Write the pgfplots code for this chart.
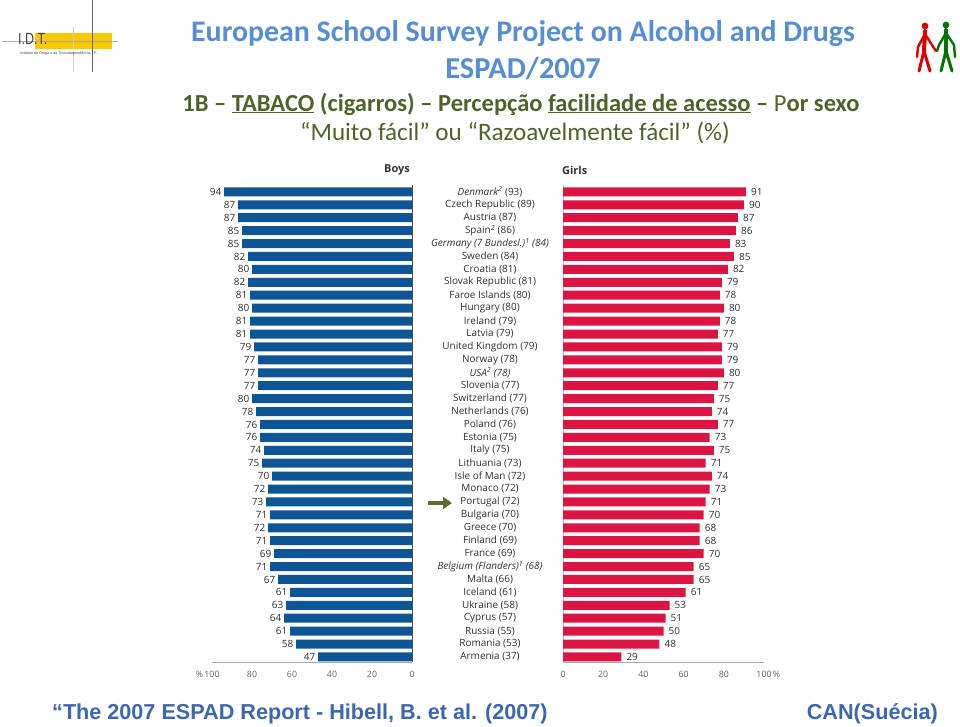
\documentclass[border=0pt]{standalone}
\usepackage{fontspec}
\setmainfont{Carlito}
\newfontfamily\chartfont{Open Sans}
\newfontfamily\arialfont{Liberation Sans}
\usepackage{pgfplots}
\pgfplotsset{compat=1.18}
\usepackage{pgfplotstable}
\usetikzlibrary{arrows.meta}

\definecolor{boyblue}{HTML}{0D5595}
\definecolor{girlred}{HTML}{DC1444}
\definecolor{titleblue}{HTML}{558ED5}
\definecolor{olivetxt}{HTML}{4F6228}
\definecolor{footblue}{HTML}{3B66B0}
\definecolor{idtyellow}{HTML}{F8C800}
\definecolor{labgray}{HTML}{2E2E2E}
\definecolor{tickgray}{HTML}{606060}
\definecolor{arrowolive}{HTML}{5F6B32}

\pgfplotstableread{
pos boys girls
37 94 91
36 87 90
35 87 87
34 85 86
33 85 83
32 82 85
31 80 82
30 82 79
29 81 78
28 80 80
27 81 78
26 81 77
25 79 79
24 77 79
23 77 80
22 77 77
21 80 75
20 78 74
19 76 77
18 76 73
17 74 75
16 75 71
15 70 74
14 72 73
13 73 71
12 71 70
11 72 68
10 71 68
9 69 70
8 71 65
7 67 65
6 61 61
5 63 53
4 64 51
3 61 50
2 58 48
1 47 29
}\datatable

\begin{document}
\begin{tikzpicture}[x=1bp,y=1bp]
\useasboundingbox (0,0) rectangle (960,727);

% ---- titles ----
\node[font=\fontsize{30}{33}\selectfont\bfseries, text=titleblue] at (523,693) {European School Survey Project on Alcohol and Drugs};
\node[font=\fontsize{30.5}{33}\selectfont\bfseries, text=titleblue] at (523,658) {ESPAD/2007};
\node[font=\fontsize{24.6}{27}\selectfont, text=olivetxt] at (521,623) {\textbf{1B -- \underline{TABACO} (cigarros) -- Percepção \underline{facilidade de acesso} --} P\textbf{or sexo}};
\node[font=\fontsize{25.2}{28}\selectfont, text=olivetxt] at (515,594) {“Muito fácil” ou “Razoavelmente fácil” (\%)};

% ---- IDT logo ----
\fill[idtyellow] (35,678) rectangle (112,694);
\draw[gray!70, line width=0.8bp] (2,686) -- (118,686);
\draw[gray!40, line width=0.8bp] (73,700) -- (73,655);
\draw[gray!80!black, line width=0.9bp] (92,727) -- (92,655);
\node[anchor=base west, inner sep=0, font=\arialfont\fontsize{12.5}{12}\selectfont, text=black!75] at (18,682) {\scalebox{1}[1.3]{I.D.T.}};
\node[anchor=west, inner sep=0, font=\arialfont\fontsize{3.7}{4}\selectfont, text=black!75] at (20,673) {Instituto da Droga e da Toxicodependência, I.P.};

% ---- right logo (figures) ----
\begin{scope}[line cap=round, line join=round]
\fill[red!85!black] (925,701) circle (3.4);
\draw[red!85!black, line width=4bp] (925,696) -- (924,676);
\draw[red!85!black, line width=3bp] (924,676) -- (919,656);
\draw[red!85!black, line width=3bp] (924,676) -- (930,656);
\draw[red!85!black, line width=2.4bp] (925,693) -- (918,680) -- (917,670);
\draw[red!85!black, line width=2.4bp] (925,693) -- (932,682) -- (936,676);
\fill[green!45!black] (946,702) circle (3.4);
\draw[green!45!black, line width=4bp] (946,697) -- (946,676);
\draw[green!45!black, line width=3bp] (946,676) -- (941,656);
\draw[green!45!black, line width=3bp] (946,676) -- (952,656);
\draw[green!45!black, line width=2.4bp] (946,694) -- (939,682) -- (937,676);
\draw[green!45!black, line width=2.4bp] (946,694) -- (954,682) -- (955,670);
\end{scope}

% ---- Boys axis ----
\begin{axis}[
  at={(212bp,65bp)}, anchor=south west, scale only axis,
  width=200bp, height=477.2bp,
  xmin=0, xmax=100, x dir=reverse,
  ymin=0.613, ymax=37.55,
  xbar, bar width=9bp,
  clip=false,
  separate axis lines,
  axis x line*=bottom,
  axis y line*=left,
  y axis line style={draw=none},
  x axis line style={draw=gray!70, line width=0.8bp},
  ytick=\empty,
  xtick={0,20,40,60,80,100},
  xticklabels={0,20,40,60,80,{\llap{\%\,}100}},
  major tick length=0pt,
  xticklabel style={font=\chartfont\fontsize{8.8}{9}\selectfont, text=tickgray, yshift=-6bp},
  /pgf/number format/assume math mode=true,
  point meta=x,
  nodes near coords,
  every node near coord/.append style={anchor=east, font=\chartfont\fontsize{10}{11}\selectfont, text=labgray, inner sep=1bp, xshift=-1.5bp},
]
\addplot[fill=boyblue, draw=none] table[x=boys, y=pos] {\datatable};
\draw[gray!60!black, line width=0.8bp] (axis cs:0,0.613) -- (axis cs:0,37.55);
\end{axis}

% ---- Girls axis ----
\begin{axis}[
  at={(563bp,65bp)}, anchor=south west, scale only axis,
  width=201bp, height=477.2bp,
  xmin=0, xmax=100,
  ymin=0.613, ymax=37.55,
  xbar, bar width=9bp,
  clip=false,
  separate axis lines,
  axis x line*=bottom,
  axis y line*=left,
  y axis line style={draw=gray!60, line width=0.8bp},
  x axis line style={draw=gray!70, line width=0.8bp},
  ytick={1,...,37},
  yticklabels={Armenia (37), Romania (53), Russia (55), Cyprus (57), Ukraine (58), Iceland (61), Malta (66), {\itshape Belgium (Flanders)\textsuperscript{1} (68)}, France (69), Finland (69), Greece (70), Bulgaria (70), Portugal (72), Monaco (72), Isle of Man (72), Lithuania (73), Italy (75), Estonia (75), Poland (76), Netherlands (76), Switzerland (77), Slovenia (77), {\itshape USA\textsuperscript{2} (78)}, Norway (78), United Kingdom (79), Latvia (79), Ireland (79), Hungary (80), Faroe Islands (80), Slovak Republic (81), Croatia (81), Sweden (84), {\itshape Germany (7 Bundesl.)\textsuperscript{1} (84)}, Spain\textsuperscript{\itshape 2} (86), Austria (87), Czech Republic (89), {\itshape Denmark\textsuperscript{2}} (93)},
  yticklabel style={anchor=center, xshift=-73bp, font=\chartfont\fontsize{10}{11}\selectfont, text=labgray},
  xtick={0,20,40,60,80,100},
  xticklabels={0,20,40,60,80,{100\rlap{\,\%}}},
  major tick length=0pt,
  xticklabel style={font=\chartfont\fontsize{8.8}{9}\selectfont, text=tickgray, yshift=-6bp},
  /pgf/number format/assume math mode=true,
  point meta=x,
  nodes near coords,
  every node near coord/.append style={anchor=west, font=\chartfont\fontsize{10}{11}\selectfont, text=labgray, inner sep=1bp, xshift=4bp},
]
\addplot[fill=girlred, draw=none] table[x=girls, y=pos] {\datatable};
\end{axis}

% ---- Boys / Girls headers ----
\node[font=\chartfont\bfseries\fontsize{11}{12}\selectfont, text=black!80] at (397,557) {Boys};
\node[anchor=west, inner sep=0, font=\chartfont\bfseries\fontsize{11}{12}\selectfont, text=black!80] at (562,557) {Girls};

% ---- arrow at Portugal ----
\draw[arrowolive, line width=4bp, -{Triangle[length=9bp,width=12bp]}] (428,224) -- (452,224);

% ---- footer ----
\node[anchor=west, inner sep=0, font=\arialfont\bfseries\fontsize{21.7}{24}\selectfont, text=footblue] at (52,13) {“The 2007 ESPAD Report - Hibell, B. et al. (2007)};
\node[anchor=east, inner sep=0, font=\arialfont\bfseries\fontsize{21.7}{24}\selectfont, text=footblue] at (938,13) {CAN(Suécia)};
\end{tikzpicture}
\end{document}
